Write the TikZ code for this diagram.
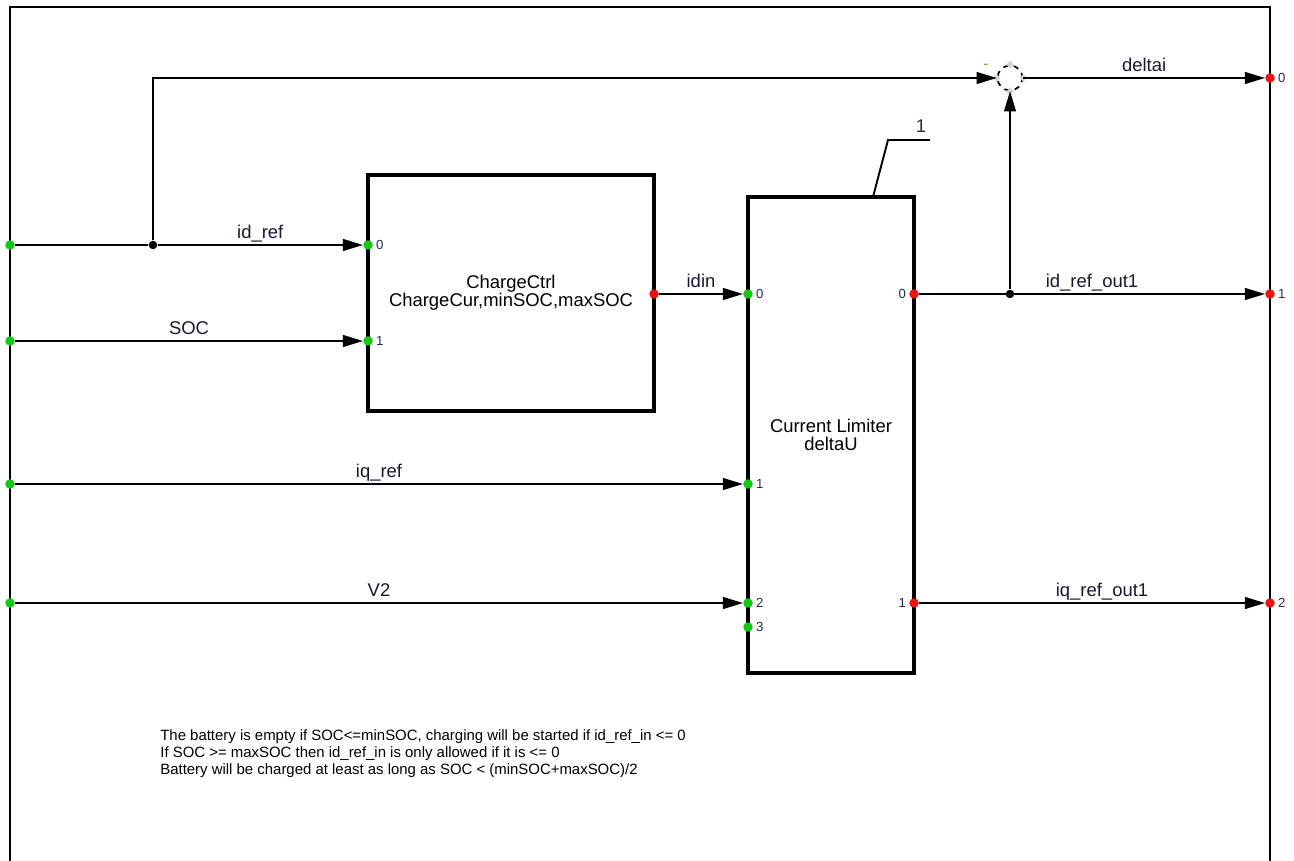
\documentclass[tikz,border=0pt]{standalone}
\usepackage{fontspec}
\setmainfont{Liberation Sans}
\usetikzlibrary{arrows.meta,shapes.geometric}
\definecolor{pgreen}{RGB}{20,200,20}
\definecolor{pred}{RGB}{235,20,20}
\definecolor{ptxt}{RGB}{40,40,80}

\begin{document}
\begin{tikzpicture}[x=0.02cm,y=-0.02cm,
    blk/.style={draw,line width=1.8pt,inner sep=0pt,align=center,
      font=\fontsize{10.5}{10.2}\selectfont},
    sig/.style={line width=0.6pt,-{Triangle[length=0.4cm,width=0.24cm]}},
    wire/.style={line width=0.6pt},
    inport/.style={circle,fill=pgreen,inner sep=0pt,minimum size=0.19cm},
    outport/.style={circle,fill=pred,inner sep=0pt,minimum size=0.19cm},
    jdot/.style={circle,fill=black,inner sep=0pt,minimum size=0.17cm},
    pnum/.style={font=\fontsize{7.5}{8}\selectfont,text=ptxt,inner sep=1.5pt},
    lbl/.style={font=\fontsize{10.5}{12}\selectfont,text=ptxt!60!black,
      inner sep=0pt,text height=7.5pt,text depth=0pt,above=3.6pt}]
  \useasboundingbox (0,0) rectangle (1294,861);
  % frame of the macro
  \draw[line width=1.6pt] (10,861) -- (10,7) -- (1270,7) -- (1270,861);
  % inputs and outputs of the frame
  \foreach \n/\y in {0/245,1/341,2/484,3/603}
    \node[inport] (in\n) at (10,\y) {};
  \foreach \n/\y in {0/78,1/294,2/603}
    \node[outport,label={[pnum]right:\n}] (out\n) at (1270,\y) {};
  % blocks
  \node[blk,minimum width=5.72cm,minimum height=4.72cm] (cc) at (511,293)
    {ChargeCtrl\\ChargeCur,minSOC,maxSOC};
  \node[blk,minimum width=3.32cm,minimum height=9.52cm] (lim) at (831,435)
    {Current Limiter\\deltaU};
  \node[inport,label={[pnum]right:0}] (cc0) at (368,245) {};
  \node[inport,label={[pnum]right:1}] (cc1) at (368,341) {};
  \node[outport] (cco) at (654,294) {};
  \foreach \n/\y in {0/294,1/484,2/603,3/627}
    \node[inport,label={[pnum]right:\n}] (li\n) at (748,\y) {};
  \foreach \n/\y in {0/294,1/603}
    \node[outport,label={[pnum]left:\n}] (lo\n) at (914,\y) {};
  % tag of the limiter
  \coordinate (t1) at (873,197);
  \coordinate (t2) at (888,140);
  \coordinate (t3) at (930,140);
  \draw[line width=1.1pt] (t1) -- (t2) -- (t3);
  \node[font=\fontsize{10.5}{12}\selectfont,text=ptxt] (tag) at (921,126) {1};
  % summation point
  \node[circle,draw,dashed,line width=1pt,minimum size=0.5cm] (sum) at (1010,78) {};
  \foreach \a in {north,east,south,west}
    \node[diamond,fill=gray!35,inner sep=0pt,minimum size=0.16cm] (sum-\a) at (sum.\a) {};
  \node[font=\fontsize{8}{8}\selectfont,text=orange!80!black] (minus) at (986,66) {-};
  % junctions
  \node[jdot] (j1) at (153,245) {};
  \node[jdot] (j2) at (1010,294) {};
  % signals
  \draw[wire] (in0) -- (j1);
  \draw[sig] (j1) -- node[lbl]{id\_ref} (cc0);
  \draw[sig] (j1) |- (sum);
  \draw[sig] (in1) -- node[lbl]{SOC} (cc1);
  \draw[sig] (in2) -- node[lbl]{iq\_ref} (li1);
  \draw[sig] (in3) -- node[lbl]{V2} (li2);
  \draw[sig] (cco) -- node[lbl]{idin} (li0);
  \draw[sig] (lo0) -- node[lbl]{id\_ref\_out1} (out1);
  \draw[sig] (j2) -- (sum);
  \draw[sig] (sum) -- node[lbl]{deltai} (out0);
  \draw[sig] (lo1) -- node[lbl,xshift=0.2cm]{iq\_ref\_out1} (out2);
  % comment
  \node[anchor=north west,align=left,inner sep=0pt,
    font=\fontsize{8.5}{9.9}\selectfont] (note) at (160,729)
    {The battery is empty if SOC<=minSOC, charging will be started if id\_ref\_in <= 0\\
     If SOC >= maxSOC then id\_ref\_in is only allowed if it is <= 0\\
     Battery will be charged at least as long as SOC < (minSOC+maxSOC)/2};
\end{tikzpicture}
\end{document}
